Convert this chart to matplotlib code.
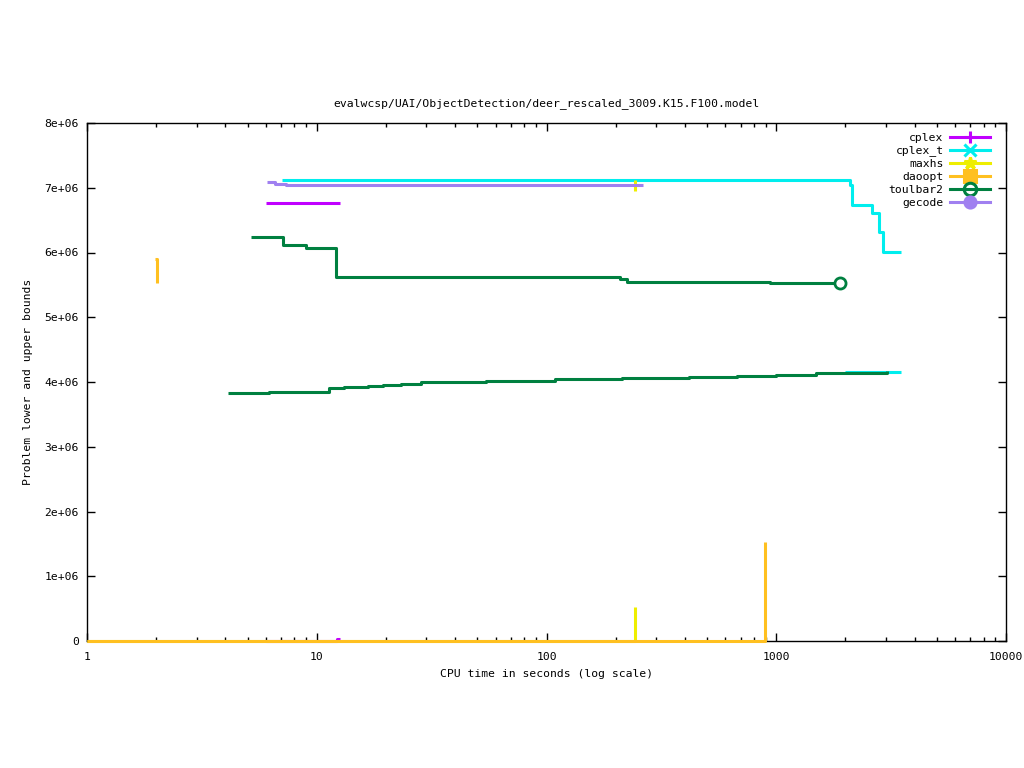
import matplotlib
matplotlib.use("Agg")
import matplotlib.pyplot as plt
from matplotlib.lines import Line2D
import numpy as np

title = "evalwcsp/UAI/ObjectDetection/deer_rescaled_3009.K15.F100.model"
xlabel = "CPU time in seconds (log scale)"
ylabel = "Problem lower and upper bounds"

solvers = ["cplex", "cplex_t", "maxhs", "daoopt", "toulbar2", "gecode"]
colors = {"cplex": "#c000ff", "cplex_t": "#00eeee", "maxhs": "#eeee00",
          "daoopt": "#ffc020", "toulbar2": "#008040", "gecode": "#a080f0"}
markers = {"cplex": "+", "cplex_t": "x", "maxhs": "*",
           "daoopt": "s", "toulbar2": "o", "gecode": "o"}

# upper bounds (time s, value)
cplex_ub_t = [6.0, 12.6]
cplex_ub_v = [6.765e6, 6.765e6]
cplex_lb_t = [6.0, 12.2, 12.6]
cplex_lb_v = [0, 0.03e6, 0.03e6]

cplex_t_ub_t = [7.06, 2094, 2137, 2605, 2811, 2924, 3481]
cplex_t_ub_v = [7.112e6, 7.05e6, 6.74e6, 6.61e6, 6.31e6, 6.01e6, 6.01e6]
cplex_t_lb_t = [1990, 3481]
cplex_t_lb_v = [4.16e6, 4.16e6]

maxhs_ub_t = [243.6, 243.6]
maxhs_ub_v = [7.12e6, 6.955e6]
maxhs_lb_t = [1.0, 243.6, 243.6]
maxhs_lb_v = [0, 0, 0.525e6]

daoopt_ub_t = [1.98, 2.01, 2.01]
daoopt_ub_v = [5.895e6, 5.895e6, 5.534e6]
daoopt_lb_t = [1.0, 896, 896]
daoopt_lb_v = [0, 0, 1.53e6]

toulbar2_ub_t = [5.17, 7.15, 8.95, 12.17, 208.9, 224, 940, 1893]
toulbar2_ub_v = [6.235e6, 6.11e6, 6.065e6, 5.617e6, 5.586e6, 5.544e6, 5.53e6, 5.53e6]
toulbar2_lb_t = [4.12, 6.22, 11.27, 13.14, 16.77, 19.43, 23.26, 28.35, 54.7,
                 108.6, 212.5, 418, 677, 1001, 1489, 3025, 3025]
toulbar2_lb_v = [3.826e6, 3.84e6, 3.90e6, 3.92e6, 3.94e6, 3.96e6, 3.975e6, 3.995e6,
                 4.01e6, 4.04e6, 4.06e6, 4.077e6, 4.093e6, 4.108e6, 4.139e6,
                 4.139e6, 4.17e6]

gecode_ub_t = [6.08, 6.6, 7.35, 226, 262]
gecode_ub_v = [7.084e6, 7.063e6, 7.045e6, 7.038e6, 7.038e6]

yticks = [0, 1e6, 2e6, 3e6, 4e6, 5e6, 6e6, 7e6, 8e6]
ytick_labels = ["0", "1e+06", "2e+06", "3e+06", "4e+06", "5e+06", "6e+06", "7e+06", "8e+06"]
xticks = [1, 10, 100, 1000, 10000]
xtick_labels = ["1", "10", "100", "1000", "10000"]

FONT = "DejaVu Sans Mono"
FS = 8.2
plt.rcParams["font.family"] = FONT

fig = plt.figure(figsize=(10.24, 7.68), dpi=100)
ax = fig.add_axes([87/1024, 1 - 641/768, 919/1024, 518/768])

LW = 2.2
def step(t, v, name, z=2):
    ax.plot(t, v, drawstyle="steps-post", color=colors[name], lw=LW,
            solid_capstyle="butt", zorder=z, clip_on=False)

step(cplex_ub_t, cplex_ub_v, "cplex")
step(cplex_lb_t, cplex_lb_v, "cplex")
step(cplex_t_ub_t, cplex_t_ub_v, "cplex_t")
step(cplex_t_lb_t, cplex_t_lb_v, "cplex_t")
step(maxhs_ub_t, maxhs_ub_v, "maxhs", 3)
step(maxhs_lb_t, maxhs_lb_v, "maxhs", 3)
step(daoopt_ub_t, daoopt_ub_v, "daoopt", 4)
step(daoopt_lb_t, daoopt_lb_v, "daoopt", 4)
step(toulbar2_ub_t, toulbar2_ub_v, "toulbar2", 5)
step(toulbar2_lb_t, toulbar2_lb_v, "toulbar2", 5)
ax.plot([toulbar2_ub_t[-1]], [toulbar2_ub_v[-1]], marker="o", ms=8, mfc="white",
        mec=colors["toulbar2"], mew=2, zorder=6, linestyle="none")
step(gecode_ub_t, gecode_ub_v, "gecode", 6)

ax.set_xscale("log")
ax.set_xlim(1, 10000)
ax.set_ylim(0, 8e6)
ax.set_xticks(xticks)
ax.set_xticklabels(xtick_labels, fontsize=FS)
ax.set_yticks(yticks)
ax.set_yticklabels(ytick_labels, fontsize=FS)
ax.xaxis.set_minor_locator(matplotlib.ticker.LogLocator(base=10, subs=np.arange(2, 10)))
ax.xaxis.set_minor_formatter(matplotlib.ticker.NullFormatter())
ax.tick_params(which="major", direction="in", length=6, width=1, top=True, right=True, pad=6)
ax.tick_params(axis="x", which="major", pad=8)
ax.tick_params(which="minor", direction="in", length=3, width=1, top=True, right=True)
for s in ax.spines.values():
    s.set_linewidth(1)

ax.set_title(title, fontsize=FS, pad=12)
ax.set_xlabel(xlabel, fontsize=FS, labelpad=5)
ax.set_ylabel(ylabel, fontsize=FS, labelpad=8)

handles = []
for n in solvers:
    mfc = colors[n]
    if n == "toulbar2":
        mfc = "none"
    handles.append(Line2D([0], [0], color=colors[n], lw=LW, marker=markers[n],
                          ms=9 if n != "gecode" else 8, mfc=mfc, mec=colors[n], mew=2.2))
leg = ax.legend(handles, solvers, loc="upper right", markerfirst=False, frameon=False,
                fontsize=FS, handlelength=3.5, handletextpad=0.6, labelspacing=0.25,
                borderpad=0, bbox_to_anchor=(996/1024, 1 - 127/768),
                bbox_transform=fig.transFigure)

fig.savefig("out.png", dpi=100)
